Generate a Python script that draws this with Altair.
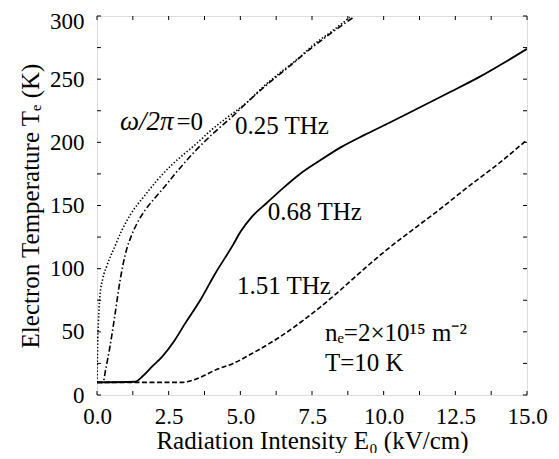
import altair as alt
import pandas as pd

# ---- data ----
om0_x = [0, 0.02, 0.05, 0.1, 0.2, 0.34, 0.63, 0.86, 1.2, 1.67, 2.1, 2.6, 3.0, 3.42, 4.0, 4.5, 5.2, 5.8, 6.38, 7.0, 7.54, 8.2, 8.82]
om0_y = [10, 38, 58, 78, 92, 102, 118, 130, 144, 158, 170, 182, 190, 198, 210, 219, 231, 244, 255, 266, 277, 288, 299]

f025_x = [0, 0.21, 0.3, 0.45, 0.63, 0.8, 1.03, 1.2, 1.4, 1.7, 2.02, 2.4, 2.72, 3.1, 3.42, 4.05, 4.7, 5.3, 6.0, 6.7, 7.5, 8.2, 8.95]
f025_y = [10, 10, 20, 38, 64, 90, 115, 126, 136, 147, 156, 166, 175, 185, 193, 207, 220, 233, 247, 260, 275, 287, 299]

f068_x = [0, 1.33, 1.6, 1.9, 2.26, 2.7, 3.07, 3.6, 4.12, 4.75, 5.0, 5.4, 5.92, 6.5, 7.08, 7.8, 8.5, 9.3, 10.2, 11.03, 12.2, 13.36, 14.2, 15]
f068_y = [10, 10.5, 15, 22, 30, 43, 56.5, 75, 96, 119, 129, 141, 152, 164, 175, 186, 196, 205.5, 215.5, 225, 238.5, 252, 263, 274]

f151_x = [0, 3.0, 3.3, 3.7, 4.12, 4.75, 5.5, 6.38, 7.25, 8.13, 9.28, 10.0, 10.85, 11.9, 12.9, 14.0, 15]
f151_y = [10, 10, 11.5, 15, 19.7, 25, 34, 46, 60, 76, 99, 113, 128, 146, 164, 183, 202]

x_tick_values = [0, 2.5, 5.0, 7.5, 10.0, 12.5, 15.0]
y_tick_values = [0, 50, 100, 150, 200, 250, 300]
x_minor = [i * 1.25 for i in range(13)]
y_minor = [i * 25 for i in range(13)]

labels_text = ["0.25 THz", "0.68 THz", "1.51 THz", "nₑ=2×10¹⁵ m⁻²", "T=10 K"]
labels_x = [4.81, 5.96, 4.88, 7.95, 7.95]
labels_y = [213, 144.5, 86.6, 49, 25.6]

W, H = 430, 379
FONT = "Liberation Serif"

xs = alt.Scale(domain=[0, 15], nice=False, zero=False)
ys = alt.Scale(domain=[0, 300], nice=False, zero=False)


def series(xv, yv):
    return pd.DataFrame({"x": xv, "y": yv, "o": range(len(xv))})


def line(df, dash, width=1.6):
    kw = dict(color="black", strokeWidth=width, clip=True, interpolate="monotone")
    if dash:
        kw["strokeDash"] = dash
    return alt.Chart(df).mark_line(**kw).encode(
        x=alt.X("x:Q", scale=xs),
        y=alt.Y("y:Q", scale=ys),
        order="o:Q",
    )


base_axes = alt.Chart(pd.DataFrame({"x": [0], "y": [0]})).mark_point(opacity=0).encode(
    x=alt.X("x:Q", scale=xs,
            axis=alt.Axis(values=x_tick_values, format=".1f", ticks=False, tickSize=0,
                          domain=False, grid=False, labelFont=FONT, labelFontSize=23,
                          labelColor="black", labelPadding=10, labelFlush=False,
                          title="Radiation Intensity E₀ (kV/cm)", titleFont=FONT,
                          titleFontSize=25, titleFontWeight="normal", titleColor="black",
                          titlePadding=0)),
    y=alt.Y("y:Q", scale=ys,
            axis=alt.Axis(values=y_tick_values, format="d", ticks=False, tickSize=0,
                          domain=False, grid=False, labelFont=FONT, labelFontSize=23,
                          labelColor="black", labelPadding=13, labelFlush=False,
                          labelOffset={"condition": {"test": "datum.value === 300", "value": 5},
                                       "value": 0},
                          title="Electron Temperature Tₑ (K)", titleFont=FONT,
                          titleFontSize=25, titleFontWeight="normal", titleColor="black",
                          titlePadding=6)),
)

xt = pd.DataFrame({"x": x_minor})
yt = pd.DataFrame({"y": y_minor})
tick_len = 4
tb = alt.Chart(xt).mark_rule(color="black", strokeWidth=1).encode(
    x=alt.X("x:Q", scale=xs), y=alt.value(H), y2=alt.value(H - tick_len))
tt = alt.Chart(xt).mark_rule(color="black", strokeWidth=1).encode(
    x=alt.X("x:Q", scale=xs), y=alt.value(0), y2=alt.value(tick_len))
tl = alt.Chart(yt).mark_rule(color="black", strokeWidth=1).encode(
    y=alt.Y("y:Q", scale=ys), x=alt.value(0), x2=alt.value(tick_len))
tr = alt.Chart(yt).mark_rule(color="black", strokeWidth=1).encode(
    y=alt.Y("y:Q", scale=ys), x=alt.value(W), x2=alt.value(W - tick_len))

l0 = line(series(om0_x, om0_y), [1.4, 2.0])
l1 = line(series(f025_x, f025_y), [6, 2.5, 1.5, 2.5])
l2 = line(series(f068_x, f068_y), None, 1.8)
l3 = line(series(f151_x, f151_y), [5, 2.5])

lab_df = pd.DataFrame({"x": labels_x, "y": labels_y, "t": labels_text})
labels = alt.Chart(lab_df).mark_text(align="left", baseline="middle", font=FONT,
                                     fontSize=25, color="black").encode(
    x=alt.X("x:Q", scale=xs), y=alt.Y("y:Q", scale=ys), text="t:N")

om_df1 = pd.DataFrame({"x": [0.8], "y": [216], "t": ["ω/2π"]})
om_df2 = pd.DataFrame({"x": [3.7], "y": [216], "t": ["=0"]})
om1 = alt.Chart(om_df1).mark_text(align="left", baseline="middle", font=FONT,
                                  fontSize=27, fontStyle="italic", color="black").encode(
    x=alt.X("x:Q", scale=xs), y=alt.Y("y:Q", scale=ys), text="t:N")
om2 = alt.Chart(om_df2).mark_text(align="right", baseline="middle", font=FONT,
                                  fontSize=25, color="black").encode(
    x=alt.X("x:Q", scale=xs), y=alt.Y("y:Q", scale=ys), text="t:N")

chart = alt.layer(base_axes, l0, l1, l2, l3, tb, tt, tl, tr, labels, om1, om2).properties(
    width=W, height=H,
    autosize=alt.AutoSizeParams(type="none"),
    padding={"left": 89, "top": 8, "right": 24, "bottom": 58},
).configure_view(stroke="black", strokeWidth=1.3).configure(background="white")

chart.save("out.html", embed_options={"renderer": "svg", "actions": False})
